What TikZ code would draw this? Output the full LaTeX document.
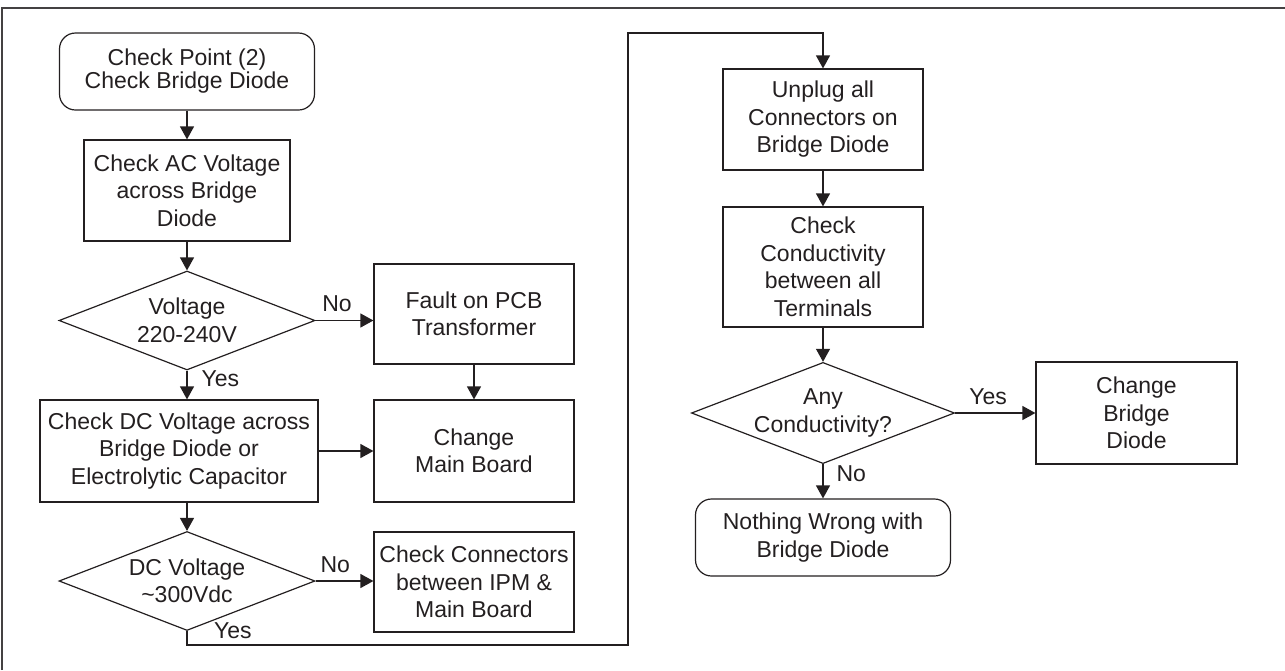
\documentclass[tikz,border=0pt]{standalone}
\usepackage{fontspec}
\setmainfont{Liberation Sans}
\usetikzlibrary{shapes.geometric,arrows.meta}
\definecolor{ink}{HTML}{231F20}

\begin{document}
\begin{tikzpicture}[
  x=1pt, y=-1pt, ink, line width=1.2pt, font=\fontsize{23}{27.5}\selectfont,
  box/.style={rectangle,draw,align=center,inner sep=2pt},  term/.style={rectangle,draw,rounded corners=16pt,align=center,inner sep=2pt,minimum width=255pt,minimum height=77pt},  dec/.style={diamond,draw,align=center,inner sep=0pt,aspect=2.6,minimum width=256pt,minimum height=99pt},  lbl/.style={inner sep=2pt},  arr/.style={-{Triangle[length=13pt,width=14pt]}}
]
  \useasboundingbox (0,0) rectangle (1285,670);
  \draw[line width=2pt,ink!85] (2,670) -- (2,7.5) -- (1285,7.5);
  \node[term,font=\fontsize{23}{23}\selectfont] (s0) at (187,71.5) {Check Point (2)\\Check Bridge Diode};
  \node[box,minimum width=206pt,minimum height=101pt] (b1) at (187,190.5) {Check AC Voltage\\across Bridge\\Diode};
  \node[dec] (d1) at (187,320.5) {Voltage\\220-240V};
  \node[box,minimum width=200pt,minimum height=100pt] (b2) at (474,314) {Fault on PCB\\Transformer};
  \node[box,minimum width=278pt,minimum height=102pt] (b3) at (179,451) {Check DC Voltage across\\Bridge Diode or\\Electrolytic Capacitor};
  \node[box,minimum width=200pt,minimum height=102pt] (b4) at (474,451) {Change\\Main Board};
  \node[dec] (d2) at (187,581) {DC Voltage\\\textasciitilde300Vdc};
  \node[box,minimum width=200pt,minimum height=100pt] (b5) at (474,582) {Check Connectors\\between IPM \&\\Main Board};
  \node[box,minimum width=200pt,minimum height=101pt] (b6) at (823,119.5) {Unplug all\\Connectors on\\Bridge Diode};
  \node[box,minimum width=200pt,minimum height=120pt] (b7) at (823,267) {Check\\Conductivity\\between all\\Terminals};
  \node[dec] (d3) at (823,413) {Any\\Conductivity?};
  \node[box,minimum width=201pt,minimum height=102pt] (b8) at (1136.5,413) {Change\\Bridge\\Diode};
  \node[term] (s1) at (823,537.5) {Nothing Wrong with\\Bridge Diode};
  \coordinate (c0) at (187,645);
  \coordinate (c1) at (628,645);
  \coordinate (c2) at (628,33);
  \coordinate (c3) at (823,33);
  \draw[arr] (s0) -- (b1);
  \draw[arr] (b1) -- (d1);
  \draw[arr] (d1.east) -- node[lbl,above=6pt,pos=0.37] {No} (d1.east -| b2.west);
  \draw[arr] (d1.south) -- node[lbl,right=12pt,pos=0.27] {Yes} (d1.south |- b3.north);
  \draw[arr] (b2) -- (b4);
  \draw[arr] (b3.east) -- (b3.east -| b4.west);
  \draw[arr] (d2.north |- b3.south) -- (d2.north);
  \draw[arr] (d2.east) -- node[lbl,above=6pt,pos=0.34] {No} (d2.east -| b5.west);
  \draw[arr] (d2.south) -- (c0) -- node[lbl,above=4pt,pos=0.104] {Yes} (c1) -- (c2) -- (c3) -- (b6.north);
  \draw[arr] (b6) -- (b7);
  \draw[arr] (b7) -- (d3);
  \draw[arr] (d3) -- node[lbl,above=6pt,pos=0.41] {Yes} (b8);
  \draw[arr] (d3) -- node[lbl,right=11pt,pos=0.28] {No} (s1);
\end{tikzpicture}
\end{document}
